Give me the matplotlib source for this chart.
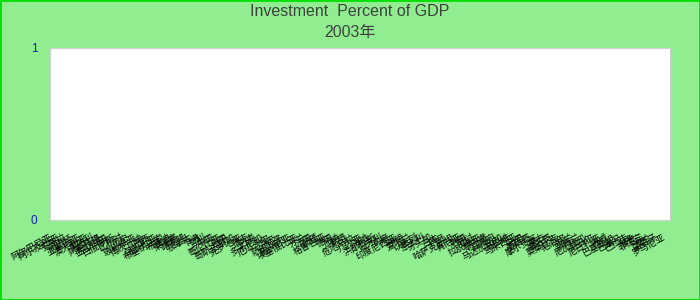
import numpy as np
import matplotlib
matplotlib.use("Agg")
import matplotlib.pyplot as plt

plt.rcParams['font.family'] = ['Liberation Sans', 'Noto Sans CJK SC', 'DejaVu Sans']

title = "Investment  Percent of GDP\n2003年"

countries = ["阿尔巴尼亚", "阿尔及利亚", "安哥拉", "阿根廷", "亚美尼亚", "澳大利亚", "奥地利",
             "阿塞拜疆", "孟加拉国", "白俄罗斯", "比利时", "贝宁", "玻利维亚", "博茨瓦纳", "巴西",
             "保加利亚", "布基纳法索", "布隆迪", "柬埔寨", "喀麦隆", "加拿大", "乍得", "智利", "中国",
             "哥伦比亚", "刚果", "哥斯达黎加", "克罗地亚", "捷克", "丹麦", "多米尼加", "厄瓜多尔",
             "埃及", "萨尔瓦多", "爱沙尼亚", "埃塞俄比亚", "芬兰", "法国", "加蓬", "格鲁吉亚", "德国",
             "加纳", "希腊", "危地马拉", "几内亚", "海地", "洪都拉斯", "匈牙利", "印度", "印度尼西亚",
             "伊朗", "爱尔兰", "以色列", "意大利", "牙买加", "日本", "约旦", "哈萨克斯坦", "肯尼亚",
             "韩国", "老挝", "拉脱维亚", "黎巴嫩", "立陶宛", "马达加斯加", "马拉维", "马来西亚", "马里",
             "墨西哥", "摩尔多瓦", "蒙古", "摩洛哥", "莫桑比克", "尼泊尔", "荷兰", "新西兰", "尼加拉瓜",
             "尼日尔", "尼日利亚", "挪威", "巴基斯坦", "巴拿马", "巴拉圭", "秘鲁", "菲律宾", "波兰",
             "葡萄牙", "罗马尼亚"]
# no values shown for 2003
investment = [np.nan] * len(countries)

fig = plt.figure(figsize=(7, 3), dpi=100, facecolor="#90ee90")
fig.patches.append(plt.Rectangle((0, 0), 1, 1, transform=fig.transFigure,
                                 fill=False, edgecolor="#00e000", linewidth=2))
ax = fig.add_axes([50/700, 80/300, 620/700, 172/300])
ax.set_facecolor("white")

x = np.arange(len(countries))
ax.bar(x, investment, color="#4472c4")
ax.set_xlim(-0.5, len(countries) - 0.5)
ax.set_ylim(0, 1)
ax.set_yticks([0, 1])
ax.tick_params(axis="y", length=0, labelcolor="#1a1ab8", labelsize=8.5, pad=9)
ax.set_xticks(x)
ax.set_xticklabels(countries, rotation=28, ha="right", fontsize=6.5,
                   family=['Noto Sans CJK SC', 'DejaVu Sans'])
ax.tick_params(axis="x", length=0, pad=9)
for s in ax.spines.values():
    s.set_color("#d0d0d0")

fig.text(0.5, 0.985, title, ha="center", va="top", fontsize=11.5, color="#404040",
         linespacing=1.45)

fig.savefig("out.png", dpi=100, facecolor=fig.get_facecolor())
